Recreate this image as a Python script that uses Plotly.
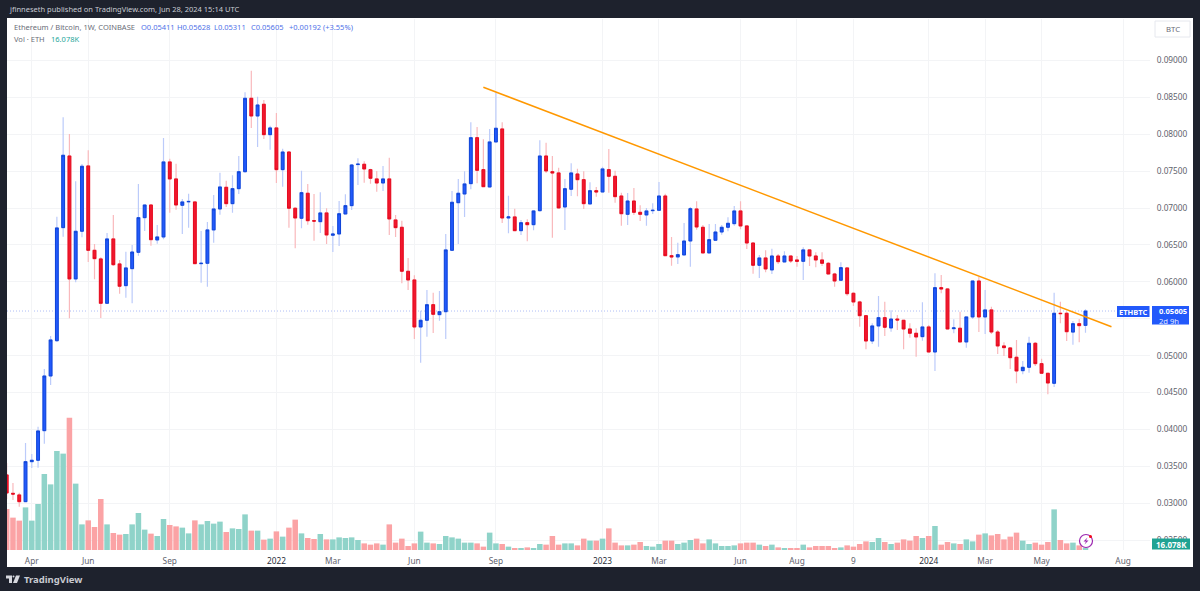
import pandas as pd
import plotly.graph_objects as go

# Weekly ETH/BTC candles, prices held in units of 0.00001 BTC
PRICE_UNIT = 1e-5
first_week = "2021-03-08"

opens = [
    3384,3135,3113,3022,3564,3583,3984,4725,5203,6735,
    7706,6040,6686,7571,6428,6311,5710,6582,6243,5949,
    6179,6401,6870,7042,6568,6609,7625,7395,7038,7085,
    7083,6247,6252,6704,6988,7282,7060,7263,7493,8488,
    8248,8407,7995,8086,7521,7760,6998,6862,7201,6829,
    6816,6934,6632,6649,6920,7033,7590,7594,7520,7395,
    7340,7395,6839,6740,6144,6026,5389,5480,5691,5556,
    5596,6428,7073,7191,7331,7954,7521,7286,7896,8072,
    6866,6880,6694,6802,6775,6965,7706,7493,7476,7015,
    7255,7462,7385,7056,7236,7218,7521,7431,7164,6916,
    7096,6943,6907,6965,6970,7164,6355,6338,6365,6554,
    6988,6740,6392,6564,6676,6740,6789,6961,6758,6527,
    6225,6324,6162,6351,6270,6351,6297,6279,6433,6351,
    6297,6252,6107,6022,6189,5846,5728,5542,5199,5403,
    5515,5376,5497,5480,5362,5304,5258,5389,5050,5922,
    5904,5366,5372,5186,5525,6012,5525,5620,5321,5132,
    5105,4979,4797,4843,5168,4892,4762,4626,5575,5575,
    5320,5434,5411,
]
highs = [
    3546,3275,3144,3817,3668,4038,4820,5267,6884,8231,
    8004,7363,7598,7783,6514,6334,6663,6907,6297,6409,
    6500,7327,7042,7052,6771,7950,7670,7602,7124,7195,
    7087,6690,6812,7178,7480,7371,7445,7706,8569,8862,
    8510,8465,8117,8289,7805,7774,7011,7507,7327,7191,
    7214,6998,6758,7096,7187,7598,7675,7634,7534,7503,
    7571,7683,6907,6829,6324,6090,5610,5891,5854,5877,
    6649,7232,7395,7499,8163,8099,7932,8072,8564,8163,
    7168,6992,6839,6848,6975,7919,7886,7706,7548,7395,
    7607,7534,7499,7350,7286,7561,7801,7507,7209,7205,
    7273,7038,7002,7065,7354,7195,6609,6531,6798,7015,
    7092,6771,6785,6785,6771,6876,7029,7092,6762,6537,
    6365,6428,6450,6378,6415,6355,6351,6469,6438,6401,
    6401,6270,6125,6266,6193,5859,5746,5548,5439,5809,
    5732,5615,5552,5484,5439,5372,5724,5416,6117,6094,
    5918,5493,5596,5529,6017,6071,5891,5664,5349,5182,
    5118,5213,4928,5258,5186,4960,4770,5854,5732,5596,
    5470,5497,5628,
]
lows = [
    3059,3045,2954,3022,3479,3483,3808,4603,5186,6613,
    5507,5995,6605,6270,6036,5511,5710,6216,5840,5786,
    5710,6355,6690,6491,6518,6577,6938,6979,6649,6735,
    6240,5989,5935,6531,6911,7015,6938,7191,7480,8086,
    7828,7937,7792,7340,7290,6735,6455,6727,6775,6558,
    6663,6514,6405,6487,6915,6975,7313,7344,7331,7222,
    7232,6636,6609,5981,5891,5227,4905,5258,5308,5475,
    5227,6428,6514,6880,7255,7336,7290,7286,7896,6798,
    6659,6690,6636,6550,6699,6951,7476,6599,6992,6704,
    7164,7160,6988,7050,7155,7214,7209,7073,6762,6771,
    6907,6825,6762,6920,6961,6350,6220,6243,6360,6206,
    6708,6388,6388,6560,6640,6686,6762,6713,6446,6111,
    6053,6130,6107,6243,6265,6256,6206,6026,6216,6198,
    6216,6102,5935,6016,5813,5674,5393,5087,5159,5122,
    5267,5325,5349,5087,5244,4987,5203,5045,4793,5846,
    5358,5304,5182,5109,5497,5321,5294,5294,5023,4996,
    4820,4626,4748,4770,4861,4757,4477,4576,5439,5199,
    5149,5182,5311,
]
closes = [
    3140,3125,3022,3564,3583,3980,4725,5213,6731,7716,
    6040,6686,7567,6428,6315,5710,6582,6233,5941,6189,
    6405,6870,7042,6572,6609,7625,7395,7042,7083,7090,
    6247,6252,6704,6988,7286,7060,7263,7493,8488,8248,
    8397,7995,8086,7521,7760,6998,6866,7209,6829,6824,
    6934,6636,6649,6924,7033,7584,7595,7530,7404,7340,
    7395,6853,6735,6144,6026,5389,5480,5691,5561,5596,
    6433,7079,7201,7327,7954,7512,7290,7896,8082,6866,
    6880,6694,6802,6775,6961,7706,7503,7476,7002,7263,
    7476,7385,7060,7236,7218,7530,7431,7155,6924,7096,
    6943,6916,6961,6970,7164,6355,6338,6369,6554,6992,
    6744,6392,6572,6676,6740,6794,6961,6758,6527,6225,
    6324,6175,6351,6274,6351,6283,6279,6433,6351,6297,
    6252,6107,6012,6193,5840,5728,5542,5199,5403,5515,
    5385,5497,5484,5362,5304,5254,5389,5050,5922,5904,
    5362,5376,5186,5525,6012,5525,5620,5321,5132,5109,
    4973,4793,4843,5168,4892,4762,4630,5575,5570,5325,
    5434,5407,5605,
]
# Weekly volume in thousands of ETH
volumes = [
    328,259,235,341,235,368,608,525,792,771,
    1059,531,205,237,184,408,205,136,123,128,
    205,296,163,131,112,248,200,189,179,133,
    237,205,232,211,227,144,173,168,285,155,
    155,83,91,149,107,179,243,133,96,88,
    128,85,85,101,96,101,80,53,43,53,
    43,205,59,91,32,53,147,59,53,48,
    112,101,91,59,59,53,27,139,53,48,
    27,16,16,21,16,48,43,112,43,53,
    53,37,91,75,75,91,173,59,37,37,
    43,64,32,27,48,75,75,48,59,80,
    91,53,85,53,32,32,37,53,59,59,
    43,32,43,21,13,16,16,43,21,32,
    32,32,16,21,37,27,48,69,64,96,
    64,48,59,85,75,112,96,112,192,43,
    64,53,48,85,69,123,133,117,128,85,
    107,139,75,48,59,43,64,325,80,53,
    59,37,16.078,
]

tick_dates = ["2021-04-05","2021-06-07","2021-09-06","2022-01-03","2022-03-07","2022-06-06",
              "2022-09-05","2023-01-02","2023-03-06","2023-06-05","2023-08-07","2023-10-09",
              "2024-01-01","2024-03-04","2024-05-06","2024-08-05"]
tick_labels = ["Apr","Jun","Sep","2022","Mar","Jun","Sep","2023","Mar","Jun","Aug","9",
               "2024","Mar","May","Aug"]
price_ticks = [0.025,0.03,0.035,0.04,0.045,0.05,0.055,0.06,0.065,0.07,0.075,0.08,0.085,0.09]
trend_dates = ["2022-08-22","2024-07-23"]
trend_prices = [0.08637,0.05393]
last_close = closes[-1] * PRICE_UNIT

weeks = pd.date_range(first_week, periods=len(opens), freq="7D")
to_price = lambda seq: [v * PRICE_UNIT for v in seq]
o, h, l, c = map(to_price, (opens, highs, lows, closes))

FIG_W, FIG_H = 1200, 591
PL, PR, PT, PB = 7, 1150, 19, 550
FONT = "Noto Sans"
BLUE, RED = "#2259fb", "#f0182e"
GRID = "#f3f4f6"
DARK = "#1e222d"


def px(x):
    return (x - PL) / (PR - PL)


def py(y):
    return (PB - y) / (PB - PT)


fig = go.Figure()

# Volume sits behind the candles on its own hidden scale
fig.add_trace(go.Bar(
    x=weeks, y=volumes, yaxis="y",
    marker=dict(color=["#8fd3c9" if b >= a else "#fba3a5" for a, b in zip(opens, closes)], line_width=0),
    showlegend=False, hoverinfo="skip",
))

# Pale full-range wicks first, then solid bodies on top
fig.add_trace(go.Candlestick(
    x=weeks, open=o, high=h, low=l, close=c, yaxis="y2", showlegend=False,
    increasing=dict(line=dict(color="#bccbfa", width=1.2), fillcolor="rgba(0,0,0,0)"),
    decreasing=dict(line=dict(color="#f9b9bc", width=1.2), fillcolor="rgba(0,0,0,0)"),
    hoverinfo="skip",
))
fig.add_trace(go.Candlestick(
    x=weeks, open=o, close=c,
    high=[max(a, b) for a, b in zip(o, c)], low=[min(a, b) for a, b in zip(o, c)],
    yaxis="y2", showlegend=False,
    increasing=dict(line=dict(color="#0f45d8", width=1), fillcolor=BLUE),
    decreasing=dict(line=dict(color="#e60a1e", width=1), fillcolor=RED),
    hoverinfo="skip",
))
fig.add_trace(go.Scatter(
    x=trend_dates, y=trend_prices, yaxis="y2", mode="lines", showlegend=False,
    line=dict(color="#ff9800", width=1.5), hoverinfo="skip",
))

shapes = [
    # White chart panel behind both scales
    dict(type="rect", xref="paper", yref="paper", x0=px(7), x1=px(1193), y0=py(18), y1=py(567),
         fillcolor="white", line_width=0, layer="below"),
    # Last-price dotted guide
    dict(type="line", xref="paper", yref="y2", x0=0, x1=1, y0=last_close, y1=last_close,
         line=dict(color="#aebdf6", width=1, dash="1px,2px"), layer="below"),
    # Currency button
    dict(type="rect", xref="paper", yref="paper", x0=px(1155), x1=px(1190), y0=py(21), y1=py(37),
         fillcolor="white", line=dict(color="#e6e8ee", width=1)),
    # Scale tags
    dict(type="rect", xref="paper", yref="paper", x0=px(1117), x1=px(1149.5), y0=py(306), y1=py(317),
         fillcolor=BLUE, line_width=0),
    dict(type="rect", xref="paper", yref="paper", x0=px(1152), x1=px(1189), y0=py(306), y1=py(324.5),
         fillcolor=BLUE, line_width=0),
    dict(type="rect", xref="paper", yref="paper", x0=px(1152), x1=px(1190), y0=py(538.5), y1=py(549.5),
         fillcolor="#1fa393", line_width=0),
    # Alert badge
    dict(type="circle", xref="paper", yref="paper", x0=px(1079.5), x1=px(1092.5), y0=py(534.5), y1=py(547.5),
         fillcolor="rgba(255,255,255,0.75)", line=dict(color="#9c27b0", width=1.2)),
    dict(type="path", xref="paper", yref="paper", fillcolor="#9c27b0", line_width=0,
         path=f"M {px(1087.5)} {py(537.5)} L {px(1083.5)} {py(541.5)} L {px(1086)} {py(541.5)} "
              f"L {px(1084.5)} {py(544.5)} L {px(1088.5)} {py(540.5)} L {px(1086)} {py(540.5)} Z"),
    dict(type="circle", xref="paper", yref="paper", x0=px(1089), x1=px(1092), y0=py(535), y1=py(538),
         fillcolor="#f50a1a", line_width=0),
    # Footer logo mark
    dict(type="path", xref="paper", yref="paper", fillcolor="#d6d8de", line_width=0,
         path=f"M {px(6)} {py(575.5)} L {px(12)} {py(575.5)} L {px(12)} {py(583)} L {px(9)} {py(583)} "
              f"L {px(9)} {py(578.5)} L {px(6)} {py(578.5)} Z"),
    dict(type="circle", xref="paper", yref="paper", x0=px(12.5), x1=px(14.5), y0=py(575.5), y1=py(577.5),
         fillcolor="#d6d8de", line_width=0),
    dict(type="path", xref="paper", yref="paper", fillcolor="#d6d8de", line_width=0,
         path=f"M {px(16)} {py(575.5)} L {px(20)} {py(575.5)} L {px(17)} {py(583)} L {px(13)} {py(583)} Z"),
]


def note(x, y, text, size=7.5, color="#6a6d78", anchor="left", **kw):
    return dict(xref="paper", yref="paper", x=px(x), y=py(y), text=text, showarrow=False,
                xanchor=anchor, yanchor="middle", align="left",
                font=dict(family=FONT, size=size, color=color), **kw)


QUOTE = "#4f72e8"
annotations = [
    note(7, 9.5, "jfinneseth published on TradingView.com, Jun 28, 2024 15:14 UTC", color="#c8cbd3"),
    note(12, 27.5, "Ethereum / Bitcoin, 1W, COINBASE"),
    note(139, 27.5, "O0.05411", color=QUOTE),
    note(175, 27.5, "H0.05628", color=QUOTE),
    note(212, 27.5, "L0.05311", color=QUOTE),
    note(249, 27.5, "C0.05605", color=QUOTE),
    note(287, 27.5, "+0.00192 (+3.55%)", color=QUOTE),
    note(12, 38.5, "Vol · ETH"),
    note(49, 38.5, "16.078K", color="#26a69a"),
    note(1172.5, 29, "BTC", size=7.8, anchor="center"),
    note(1133, 311.5, "<b>ETHBTC</b>", size=7.5, color="white", anchor="center"),
    note(1157, 311, "<b>0.05605</b>", size=7.6, color="white"),
    note(1157, 320.5, "2d 9h", size=7.6, color="#e8edff"),
    note(1171, 544, "<b>16.078K</b>", size=8, color="white", anchor="center"),
    note(22, 579.5, "<b>TradingView</b>", size=9.5, color="#c9cbd1"),
]

year_labels = {"2022", "2023", "2024"}
ticktext = [f"<span style='color:#2a2e39'>{t}</span>" if t in year_labels else t for t in tick_labels]
# The current-price tag covers the 0.05500 level, so only its grid line stays
price_text = ["" if v == 0.055 else f"{v:.5f}" for v in price_ticks]

fig.update_layout(
    width=FIG_W, height=FIG_H,
    margin=dict(l=PL, r=FIG_W - PR, t=PT, b=FIG_H - PB, pad=0, autoexpand=False),
    paper_bgcolor=DARK, plot_bgcolor="rgba(255,255,255,0)",
    font=dict(family=FONT, size=8, color="#555962"),
    bargap=0.12, boxgap=0.36, hovermode=False, dragmode=False,
    xaxis=dict(
        type="date", range=["2021-03-08 08:00", "2024-09-04"],
        tickmode="array", tickvals=tick_dates, ticktext=ticktext,
        showgrid=True, gridcolor=GRID, gridwidth=1, zeroline=False, showline=False,
        ticks="outside", ticklen=3, tickcolor="rgba(0,0,0,0)", ticklabelstandoff=0,
        tickfont=dict(size=8.3, color="#5f636e"),
        rangeslider=dict(visible=False),
    ),
    yaxis=dict(range=[0, 4248], visible=False, showgrid=False, zeroline=False),
    yaxis2=dict(
        overlaying="y", side="right", range=[0.02367, 0.09562],
        tickmode="array", tickvals=price_ticks, ticktext=price_text,
        showgrid=True, gridcolor=GRID, gridwidth=1, zeroline=False, showline=False,
        ticks="outside", ticklen=4, tickcolor="rgba(0,0,0,0)", ticklabelstandoff=0,
        tickfont=dict(size=8.3, color="#5f636e"),
    ),
    shapes=shapes, annotations=annotations,
)

fig.write_html("out.html", config=dict(displayModeBar=False))
